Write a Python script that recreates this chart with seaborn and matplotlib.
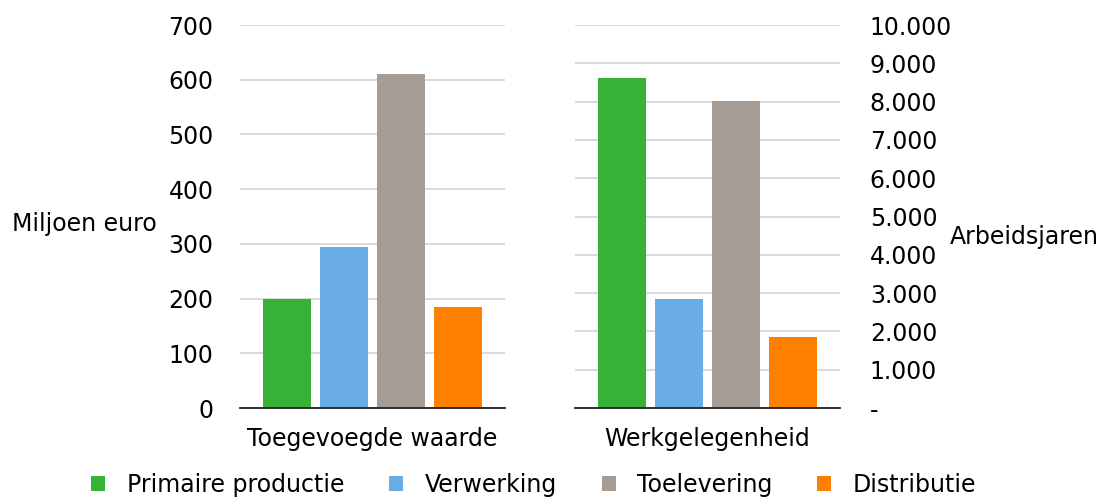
import pandas as pd
import matplotlib.pyplot as plt
import matplotlib.ticker as mticker
import seaborn as sns

# data
groepen = ["Toegevoegde waarde", "Werkgelegenheid"]
reeksen = ["Primaire productie", "Verwerking", "Toelevering", "Distributie"]
waarde_mln = [200, 295, 611, 185]        # Miljoen euro
arbeidsjaren = [8620, 2850, 8020, 1850]  # Arbeidsjaren
kleuren = ["#36B236", "#6AADE4", "#A59C95", "#FF7F00"]

sns.set_style("white")
plt.rcParams['font.family'] = ['DejaVu Sans']
plt.rcParams['text.color'] = 'black'
fs = 17

df = pd.DataFrame({
    "groep": [groepen[0]] * 4 + [groepen[1]] * 4,
    "reeks": reeksen * 2,
    "waarde": waarde_mln + arbeidsjaren,
})

fig = plt.figure(figsize=(11.05, 4.98), dpi=100)
ax1 = fig.add_axes([240 / 1105, 1 - 408 / 498, 265 / 1105, 383 / 498])
ax2 = fig.add_axes([575 / 1105, 1 - 408 / 498, 265 / 1105, 383 / 498])

for ax, g in zip([ax1, ax2], groepen):
    sns.barplot(data=df[df.groep == g], x="groep", y="waarde", hue="reeks",
                hue_order=reeksen, palette=kleuren, width=0.86, gap=0.16,
                saturation=1, linewidth=0, ax=ax, zorder=3)
    ax.set_xlabel("")
    ax.set_ylabel("")
    ax.set_xlim(-0.5, 0.5)
    for s in ["left", "right", "top"]:
        ax.spines[s].set_visible(False)
    ax.spines["bottom"].set_color("#222222")
    ax.spines["bottom"].set_linewidth(1.3)
    ax.spines["bottom"].set_zorder(4)
    ax.yaxis.grid(True, color="#D9D9D9", linewidth=1.4)
    ax.set_axisbelow(True)
    ax.tick_params(axis="both", length=0, labelsize=fs, colors="black")
    ax.tick_params(axis="x", pad=14)

handles, labels = ax1.get_legend_handles_labels()
ax1.get_legend().remove()
ax2.get_legend().remove()

ax1.set_ylim(0, 700)
ax1.yaxis.set_major_locator(mticker.MultipleLocator(100))
ax1.tick_params(axis="y", pad=19)

ax2.set_ylim(0, 10000)
ax2.yaxis.set_major_locator(mticker.MultipleLocator(1000))
ax2.yaxis.tick_right()
ax2.yaxis.set_major_formatter(mticker.FuncFormatter(
    lambda v, p: "-" if v == 0 else f"{int(v):,}".replace(",", ".")))
ax2.tick_params(axis="y", pad=21.5)

fig.text(12 / 1105, 1 - 224 / 498, "Miljoen euro", fontsize=fs, va="center", ha="left")
fig.text(950 / 1105, 1 - 237 / 498, "Arbeidsjaren", fontsize=fs, va="center", ha="left")

fig.legend(handles, labels, loc="center", bbox_to_anchor=(0.483, 1 - 485 / 498),
           ncol=4, frameon=False, fontsize=fs, handlelength=0.6, handleheight=0.6,
           columnspacing=1.9, handletextpad=0.9, borderpad=0, borderaxespad=0)

plt.savefig("out.png", dpi=100)
